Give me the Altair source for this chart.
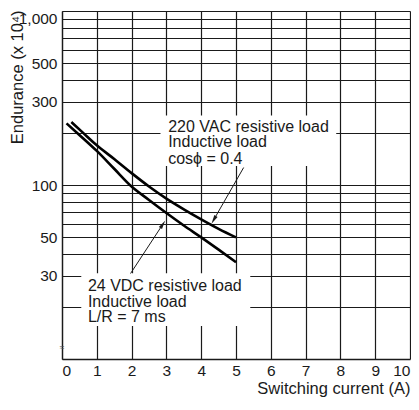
import json
import altair as alt
import pandas as pd

FONT = "Liberation Sans"
INK = "#1a1a1a"

# ---- data ----
vac_x = [0.27, 0.6, 1, 1.5, 2, 2.5, 3, 3.5, 4, 4.5, 5]
vac_y = [230, 200, 169, 141, 117, 98, 83.5, 72.5, 63.5, 56, 50]
vdc_x = [0.13, 0.5, 1, 1.5, 2, 2.5, 3, 3.5, 4, 4.5, 5]
vdc_y = [226, 194, 157, 124, 98, 82, 69, 58.5, 50, 42.5, 36]

x_ticks = list(range(0, 11))
y_grid = [20, 30, 40, 50, 60, 70, 80, 90, 100, 200, 300, 400, 500, 600, 700, 800, 900, 1000]
y_labeled = [30, 50, 100, 300, 500, 1000]

label_vac = ["220 VAC resistive load", "Inductive load", "cos\u03d5 = 0.4"]
label_vac_x = [3.05, 3.05, 3.05]
label_vac_y = [202.4, 164.8, 131.8]
label_vdc = ["24 VDC resistive load", "Inductive load", "L/R = 7 ms"]
label_vdc_x = [0.744, 0.744, 0.744]
label_vdc_y = [24.6, 19.8, 16.3]

box_x0 = [2.83, 0.554]
box_x1 = [7.88, 5.41]
box_y0 = [128.4, 15.5]
box_y1 = [250.7, 31.1]

arrow_x0 = [5.22, 1.97]
arrow_y0 = [126, 31]
arrow_x1 = [4.36, 2.898]
arrow_y1 = [63.07, 59.5]
arrow_angle = [210, 33]

# ---- tables ----
curves = pd.DataFrame({
    "x": vac_x + vdc_x,
    "y": vac_y + vdc_y,
    "s": ["vac"] * len(vac_x) + ["vdc"] * len(vdc_x),
})
texts = pd.DataFrame({
    "x": label_vac_x + label_vdc_x,
    "y": label_vac_y + label_vdc_y,
    "t": label_vac + label_vdc,
})
boxes = pd.DataFrame({"x0": box_x0, "x1": box_x1, "y0": box_y0, "y1": box_y1})
arrows = pd.DataFrame({"x0": arrow_x0, "y0": arrow_y0, "x1": arrow_x1,
                       "y1": arrow_y1, "ang": arrow_angle})
brk = pd.DataFrame({"x": [0], "y": [11.5], "t": ["\u2248"]})

x_scale = alt.Scale(domain=[0, 10], nice=False, zero=False)
y_scale = alt.Scale(type="log", domain=[10, 1000], nice=False)

x_axis = alt.Axis(
    values=x_ticks, grid=True, ticks=False, labelFlush=True,
    labelPadding=4, labelFontSize=15.5, labelFont=FONT, labelColor=INK,
    title="Switching current (A)", titleFont=FONT, titleFontSize=16.5,
    titleFontWeight="normal", titleColor=INK,
    titleX=348, titleY=34, titleAlign="right", titleBaseline="alphabetic",
    titleAngle=0,
    domainColor=INK, domainWidth=1.3, gridColor=INK, gridWidth=1.2, gridOpacity=1,
)
label_expr = "indexof(" + json.dumps(y_labeled) + ", datum.value) >= 0 ? datum.label : ''"
y_axis = alt.Axis(
    values=y_grid, grid=True, ticks=False, format=",", labelExpr=label_expr,
    labelOverlap=False, labelFlush=True, labelPadding=5,
    labelFontSize=15.5, labelFont=FONT, labelColor=INK,
    title="Endurance (x 10\u2074)", titleFont=FONT, titleFontSize=16.5,
    titleFontWeight="normal", titleColor=INK,
    titleX=-40, titleY=-1, titleAlign="right", titleBaseline="alphabetic",
    titleAngle=270,
    domainColor=INK, domainWidth=1.3, gridColor=INK, gridWidth=1.2, gridOpacity=1,
)


def X(f):
    return alt.X(f, type="quantitative", scale=x_scale, axis=x_axis)


def Y(f):
    return alt.Y(f, type="quantitative", scale=y_scale, axis=y_axis)


lines = alt.Chart(curves).mark_line(
    color="black", strokeWidth=2.6, interpolate="monotone"
).encode(x=X("x"), y=Y("y"), detail="s:N")

rects = alt.Chart(boxes).mark_rect(color="white").encode(
    x=X("x0"), x2="x1", y=Y("y0"), y2="y1"
)

rules = alt.Chart(arrows).mark_rule(color=INK, strokeWidth=1).encode(
    x=X("x0"), y=Y("y0"), x2="x1", y2="y1"
)

heads = alt.Chart(arrows).mark_point(
    filled=True, color=INK, opacity=1, size=80,
    shape="M0,-1L0.42,1L-0.42,1Z",
).encode(x=X("x1"), y=Y("y1"), angle=alt.Angle("ang:Q", scale=None))

labels = alt.Chart(texts).mark_text(
    align="left", baseline="alphabetic", font=FONT, fontSize=16, color=INK
).encode(x=X("x"), y=Y("y"), text="t:N")

breakmark = alt.Chart(brk).mark_text(
    align="center", baseline="middle", font=FONT, fontSize=8, color="#555"
).encode(x=X("x"), y=Y("y"), text="t:N")

chart = alt.layer(lines, rects, rules, heads, labels, breakmark).properties(
    width=348, height=348,
    autosize=alt.AutoSizeParams(type="none"),
    padding={"left": 54, "top": 3, "right": 1, "bottom": 39},
    background="white",
).configure_view(stroke=None)

chart.save("out.html", embed_options={"renderer": "svg", "actions": False})
